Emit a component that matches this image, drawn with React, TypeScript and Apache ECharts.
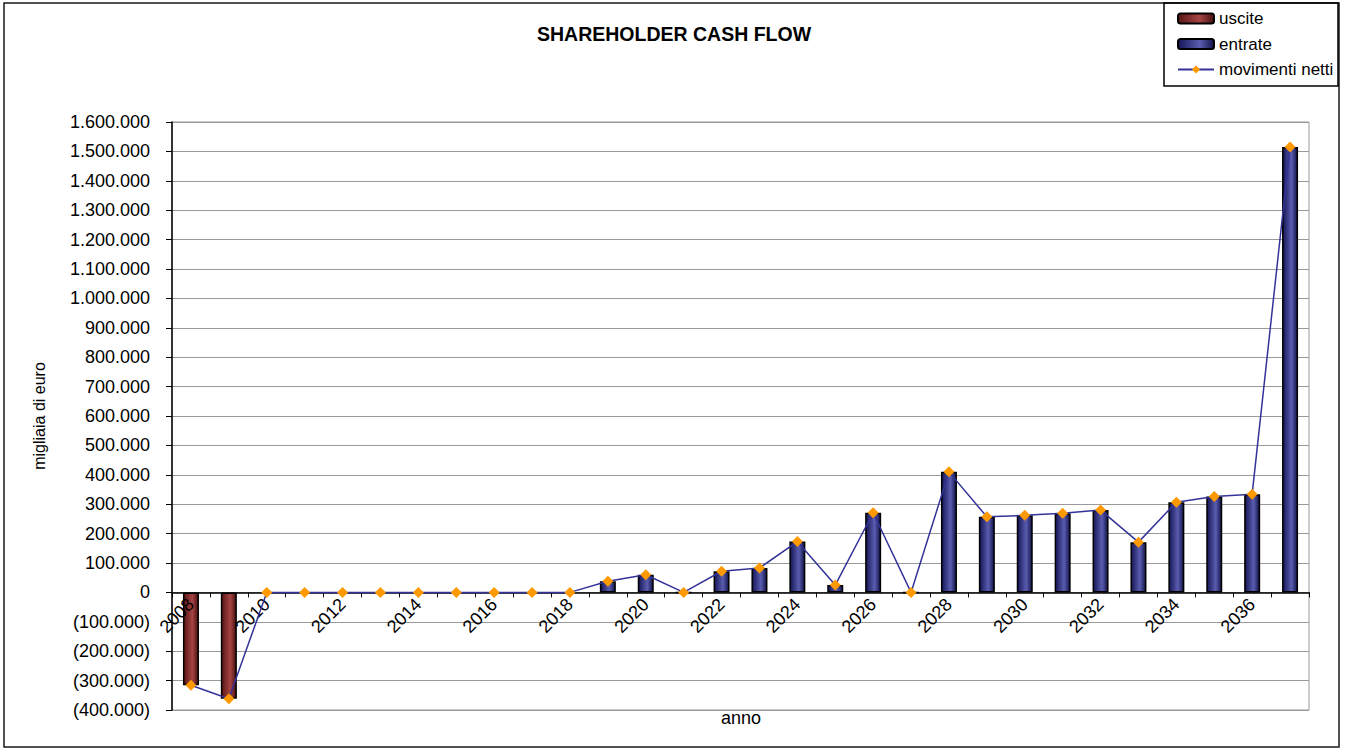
import React, { useEffect, useRef } from "react";
import * as echarts from "echarts";

const years = [
  "2008", "2009", "2010", "2011", "2012", "2013", "2014", "2015", "2016", "2017",
  "2018", "2019", "2020", "2021", "2022", "2023", "2024", "2025", "2026", "2027",
  "2028", "2029", "2030", "2031", "2032", "2033", "2034", "2035", "2036", "2037",
];

const uscite = [
  -316000, -362000, null, null, null, null, null, null, null, null,
  null, null, null, null, null, null, null, null, null, null,
  null, null, null, null, null, null, null, null, null, null,
];

const entrate = [
  null, null, null, null, null, null, null, null, null, null,
  null, 38000, 60000, 0, 72000, 83000, 173000, 25000, 271000, 0,
  410000, 257000, 262000, 269000, 280000, 171000, 307000, 326000, 334000, 1515000,
];

const movimentiNetti = [
  -316000, -362000, 0, 0, 0, 0, 0, 0, 0, 0,
  0, 38000, 60000, 0, 72000, 83000, 173000, 25000, 271000, 0,
  410000, 257000, 262000, 269000, 280000, 171000, 307000, 326000, 334000, 1515000,
];

const yMin = -400000;
const yMax = 1600000;
const yStep = 100000;

const FONT = "'Liberation Sans', Arial, sans-serif";

const GRID_TOP = 122;
const GRID_BOTTOM_PX = 710;
// distance (px) from the bottom of the plot to the value 0, so the category axis sits on zero
const zeroOffset = -((0 - yMin) / (yMax - yMin)) * (GRID_BOTTOM_PX - GRID_TOP);

function fmt(v: number): string {
  const s = String(Math.abs(v)).replace(/\B(?=(\d{3})+(?!\d))/g, ".");
  return v < 0 ? `(${s})` : s;
}

function barGradient(edge: string, mid: string, edge2: string) {
  return new echarts.graphic.LinearGradient(0, 0, 1, 0, [
    { offset: 0, color: edge },
    { offset: 0.6, color: mid },
    { offset: 1, color: edge2 },
  ]);
}

export default function App() {
  const ref = useRef<HTMLDivElement>(null);

  useEffect(() => {
    if (!ref.current) return;
    const chart = echarts.init(ref.current, null, { renderer: "svg" });
    chart.setOption({
      animation: false,
      backgroundColor: "#ffffff",
      textStyle: { fontFamily: FONT },
      title: {
        text: "SHAREHOLDER CASH FLOW",
        left: "center",
        top: 24,
        padding: 0,
        textStyle: { fontFamily: FONT, fontSize: 19.5, fontWeight: "bold", color: "#000" },
      },
      legend: {
        orient: "vertical",
        left: 1177,
        top: 10,
        padding: 0,
        itemWidth: 36,
        itemHeight: 10,
        itemGap: 8.5,
        textStyle: { fontFamily: FONT, fontSize: 17, color: "#000", lineHeight: 17 },
        data: ["uscite", "entrate", "movimenti netti"],
      },
      grid: {
        left: 172,
        top: GRID_TOP,
        right: 39,
        bottom: 749 - GRID_BOTTOM_PX,
        show: true,
        borderColor: "#999",
        borderWidth: 1,
        containLabel: false,
        outerBoundsMode: "none",
      },
      xAxis: {
        type: "category",
        data: years,
        boundaryGap: true,
        position: "bottom",
        offset: zeroOffset,
        z: 3,
        axisLine: { onZero: false, lineStyle: { color: "#000", width: 1.5 } },
        axisTick: { show: true, interval: 0, length: 5, inside: false, lineStyle: { color: "#000" } },
        axisLabel: {
          interval: 1,
          rotate: 45,
          margin: 9,
          fontFamily: FONT,
          fontSize: 18,
          color: "#000",
        },
        splitLine: { show: false },
      },
      yAxis: {
        type: "value",
        min: yMin,
        max: yMax,
        interval: yStep,
        name: "migliaia di euro",
        nameLocation: "middle",
        nameGap: 125,
        nameTextStyle: { fontFamily: FONT, fontSize: 16, color: "#000" },
        axisLine: { show: true, lineStyle: { color: "#000", width: 1.5 } },
        axisTick: { show: true, length: 6, lineStyle: { color: "#000" } },
        axisLabel: {
          margin: 22,
          fontFamily: FONT,
          fontSize: 18,
          color: "#000",
          formatter: (v: number) => fmt(v),
        },
        splitLine: { show: true, lineStyle: { color: "#9a9a9a", width: 1 } },
      },
      graphic: [
        {
          type: "rect",
          shape: { x: 4, y: 3, width: 1335, height: 744 },
          style: { fill: "none", stroke: "#1a1a1a", lineWidth: 1.5 },
          silent: true,
          z: 100,
        },
        {
          type: "rect",
          shape: { x: 1164, y: 3, width: 174, height: 83 },
          style: { fill: "none", stroke: "#000", lineWidth: 1.5 },
          silent: true,
          z: 100,
        },
        {
          type: "text",
          x: 741,
          y: 718,
          style: {
            text: "anno",
            font: `18px ${FONT}`,
            fill: "#000",
            textAlign: "center",
            textVerticalAlign: "middle",
          },
          silent: true,
        },
      ],
      series: [
        {
          name: "uscite",
          type: "bar",
          data: uscite,
          barWidth: 16,
          barGap: "-100%",
          z: 2,
          itemStyle: {
            color: barGradient("#5a1515", "#a64444", "#4a0f0f"),
            borderColor: "#000",
            borderWidth: 1.5,
          },
        },
        {
          name: "entrate",
          type: "bar",
          data: entrate,
          barWidth: 16,
          barGap: "-100%",
          z: 2,
          itemStyle: {
            color: barGradient("#151555", "#5a5db0", "#121248"),
            borderColor: "#000",
            borderWidth: 1.5,
          },
        },
        {
          name: "movimenti netti",
          type: "line",
          data: movimentiNetti,
          z: 5,
          symbol: "diamond",
          symbolSize: 11,
          showAllSymbol: true,
          lineStyle: { color: "#333399", width: 1.5 },
          itemStyle: { color: "#FF9900", borderWidth: 0 },
        },
      ],
    });
    return () => chart.dispose();
  }, []);

  return (
    <div
      ref={ref}
      style={{ position: "fixed", left: 0, top: 0, width: 1348, height: 749, background: "#fff" }}
    />
  );
}
